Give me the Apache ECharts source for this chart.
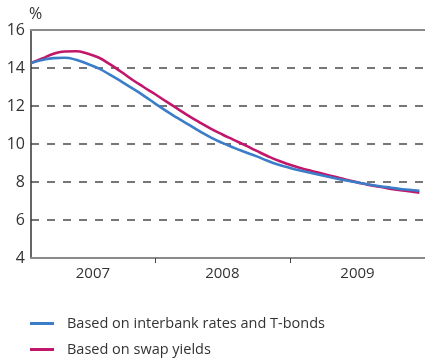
<!DOCTYPE html>
<html>
<head>
<meta charset="utf-8">
<script src="https://cdn.jsdelivr.net/npm/echarts@6/dist/echarts.min.js"></script>
<style>
  html, body { margin: 0; padding: 0; background: #fff; }
  #chart { width: 425px; height: 359px; }
</style>
</head>
<body>
<div id="chart"></div>
<script>
// Month index: 0 = January 2007, 12 = January 2008, 24 = January 2009
const months = [1, 2, 3, 4, 5, 6, 7, 8, 9, 10, 11, 12, 13, 14, 15, 16, 17, 18,
  19, 20, 21, 22, 23, 24, 25, 26, 27, 28, 29, 30, 31, 32, 33, 34, 35, 35.5];

// Based on interbank rates and T-bonds (%)
const interbank = [14.26, 14.42, 14.52, 14.54, 14.43, 14.22, 13.98, 13.65, 13.3, 12.93,
  12.55, 12.14, 11.74, 11.37, 11.02, 10.67, 10.34, 10.06, 9.81, 9.58, 9.36, 9.12,
  8.91, 8.74, 8.59, 8.46, 8.33, 8.2, 8.08, 7.97, 7.87, 7.78, 7.7, 7.62, 7.57, 7.54];

// Based on swap yields (%)
const swap = [14.26, 14.5, 14.75, 14.87, 14.88, 14.76, 14.55, 14.2, 13.8, 13.38,
  13.0, 12.63, 12.24, 11.86, 11.48, 11.13, 10.8, 10.5, 10.22, 9.94, 9.65, 9.37,
  9.12, 8.91, 8.72, 8.57, 8.42, 8.27, 8.12, 7.98, 7.85, 7.75, 7.63, 7.55, 7.48, 7.44];

const yearLabels = ['2007', '2008', '2009'];
const yearCentres = [6.5, 18, 30];
const yearBreaks = [12, 24];

const seriesNames = ['Based on interbank rates and T-bonds', 'Based on swap yields'];
const colors = ['#3a7dc8', '#c2166a'];

const chart = echarts.init(document.getElementById('chart'), null, { renderer: 'canvas' });
const font = 'Open Sans, Noto Sans, sans-serif';

// One legend block per series, stacked under the plot
const legendRow = (name, top) => ({
  left: 30, top: top, padding: 0,
  itemWidth: 24, itemHeight: 3, icon: 'rect',
  textStyle: { fontSize: 14.5, color: '#333', fontFamily: font, padding: [0, 0, 0, 8] },
  data: [name]
});

chart.setOption({
  animation: false,
  textStyle: { fontFamily: font },
  title: {
    text: '%', left: 29, top: 6, padding: 0,
    textStyle: { fontSize: 16, fontWeight: 'normal', color: '#333', fontFamily: font }
  },
  grid: { left: 31, right: 0, top: 30, bottom: 101, containLabel: false },
  legend: [legendRow(seriesNames[0], 316), legendRow(seriesNames[1], 342)],
  xAxis: [{
    type: 'value', min: 1, max: 36,
    axisLine: { show: true, onZero: false, lineStyle: { color: '#8a8a8a', width: 2 } },
    axisTick: { show: true, customValues: yearBreaks, length: 5, lineStyle: { color: '#444', width: 1 } },
    axisLabel: {
      show: true, customValues: yearCentres, fontSize: 15, color: '#333', margin: 8,
      formatter: v => yearLabels[yearCentres.indexOf(v)]
    },
    splitLine: { show: false }
  }, {
    type: 'value', min: 1, max: 36, position: 'top',
    axisLine: { show: true, lineStyle: { color: '#8a8a8a', width: 2 } },
    axisTick: { show: false }, axisLabel: { show: false }, splitLine: { show: false }
  }],
  yAxis: {
    type: 'value', min: 4, max: 16, interval: 2,
    axisLine: { show: true, lineStyle: { color: '#333', width: 1.5 } },
    axisTick: { show: false },
    axisLabel: { fontSize: 16, color: '#333', margin: 6 },
    splitLine: { show: true, lineStyle: { color: '#4a4a4a', width: 1.5, type: [8, 8] } }
  },
  series: [
    {
      name: seriesNames[0], type: 'line', smooth: 0.5, showSymbol: false,
      color: colors[0], lineStyle: { width: 2.6 },
      data: months.map((m, i) => [m, interbank[i]]), z: 3
    },
    {
      name: seriesNames[1], type: 'line', smooth: 0.5, showSymbol: false,
      color: colors[1], lineStyle: { width: 2.6 },
      data: months.map((m, i) => [m, swap[i]]), z: 2
    }
  ]
});
</script>
</body>
</html>
